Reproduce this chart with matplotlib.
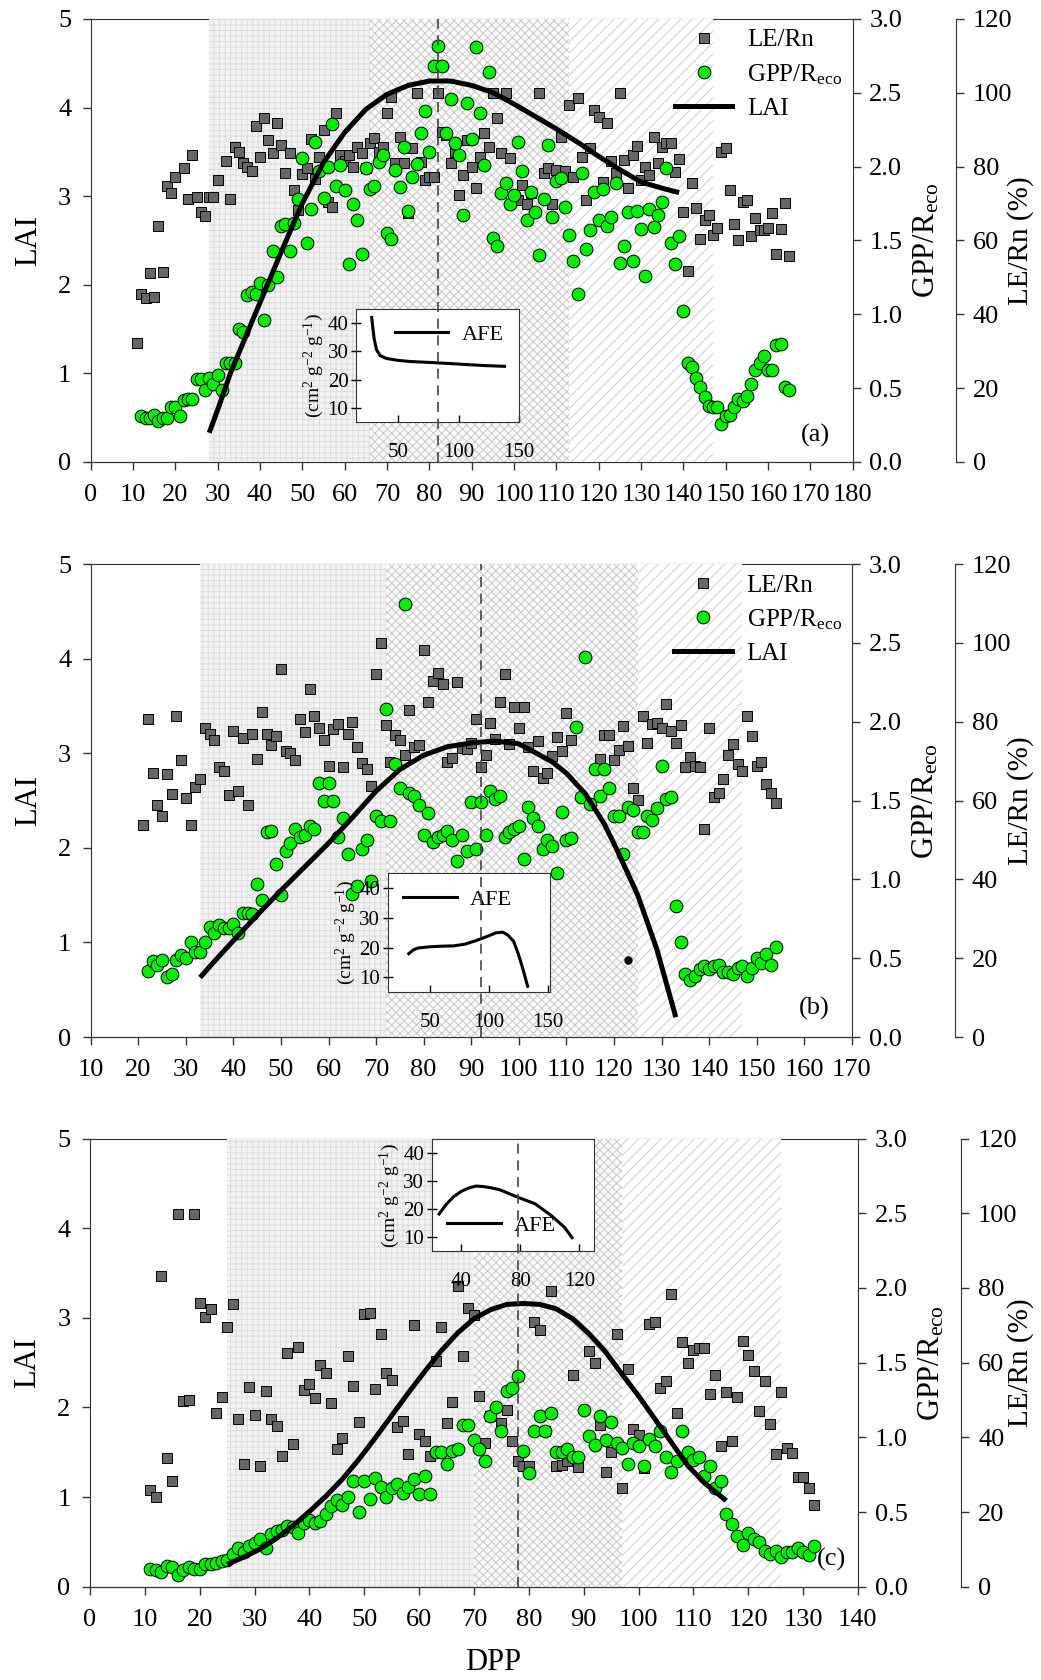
import matplotlib
matplotlib.use("Agg")
import matplotlib.pyplot as plt
from matplotlib.lines import Line2D
from matplotlib.transforms import blended_transform_factory

plt.rcParams['font.family'] = ['Liberation Serif', 'DejaVu Serif']
plt.rcParams['mathtext.fontset'] = 'custom'
plt.rcParams['mathtext.rm'] = 'Liberation Serif'
plt.rcParams['mathtext.it'] = 'Liberation Serif:italic'
plt.rcParams['mathtext.bf'] = 'Liberation Serif:bold'
plt.rcParams['hatch.linewidth'] = 0.8
plt.rcParams['axes.edgecolor'] = '#333333'

# ---------------- panel (a) ----------------
a_le = [(11,32.2),(12,45.4),(13,44.4),(14,51.1),(15,44.6),(16,63.8),(17,51.6),(18,74.8),(19,72.8),(20,77.3),
        (22,79.7),(23,71.3),(24,83.2),(25,71.9),(26,67.6),(27,66.5),(28,71.9),(29,71.9),(30,76.4),(32,81.4),
        (33,71.3),(34,85.4),(35,84.1),(36,81.1),(37,80.0),(38,78.7),(39,91.0),(40,82.7),(41,93.3),(42,87.2),
        (43,83.6),(44,91.9),(45,85.9),(46,78.4),(47,83.6),(48,73.7),(49,68.3),(50,78.0),(51,79.6),(52,87.4),
        (53,76.7),(54,82.7),(55,89.9),(56,70.5),(57,69.0),(58,94.6),(59,83.2),(60,81.6),(61,83.2),(62,80.0),
        (63,85.4),(64,83.8),(65,79.6),(66,86.3),(67,87.7),(68,84.1),(69,85.4),(70,94.4),(71,99.0),(72,80.9),
        (73,88.1),(74,80.9),(75,67.4),(76,85.0),(77,100.0),(78,81.2),(79,76.4),(80,77.3),(81,77.1),(82,100.0),
        (83,89.5),(84,88.6),(85,81.1),(86,84.1),(87,72.3),(88,77.8),(89,87.2),(90,80.0),(91,74.1),(92,82.7),
        (93,89.0),(94,85.4),(95,100.0),(96,93.1),(97,83.8),(98,100.0),(99,82.3),(101,71.0),(102,75.0),(103,69.9),
        (104,72.8),(106,99.9),(107,78.2),(108,79.6),(109,69.9),(110,79.1),(111,87.9),(112,78.7),(113,96.7),
        (114,77.3),(115,98.5),(116,82.7),(117,71.0),(118,85.0),(119,95.3),(120,93.4),(121,75.9),(122,91.7),
        (123,81.4),(124,78.2),(125,100.0),(126,81.8),(127,74.1),(128,83.2),(129,85.7),(130,76.4),(131,80.0),
        (132,77.8),(133,87.9),(134,80.9),(135,85.4),(136,86.3),(137,86.5),(138,78.5),(139,82.1),(140,67.8),
        (141,51.8),(142,75.5),(143,68.7),(144,60.3),(145,65.6),(146,66.9),(147,61.5),(148,63.3),(149,84.1),
        (150,85.0),(151,73.7),(152,64.4),(153,60.2),(154,70.3),(155,71.0),(156,61.3),(157,66.0),(158,62.9),
        (159,62.9),(160,63.5),(161,67.4),(162,56.4),(163,63.0),(164,70.1),(165,55.9)]
a_gpp = [(12,0.31),(13,0.30),(14,0.30),(15,0.32),(16,0.28),(17,0.30),(18,0.30),(19,0.37),(20,0.37),(21,0.31),
         (22,0.42),(23,0.43),(24,0.43),(25,0.56),(26,0.56),(27,0.49),(28,0.57),(29,0.53),(30,0.59),(31,0.49),
         (32,0.67),(33,0.67),(34,0.67),(35,0.90),(36,0.88),(37,1.13),(38,1.15),(39,1.14),(40,1.21),(41,0.96),
         (42,1.20),(43,1.43),(44,1.25),(45,1.60),(46,1.61),(47,1.43),(48,1.62),(49,1.78),(50,2.06),(51,1.48),
         (52,1.71),(53,2.17),(54,1.97),(55,1.79),(56,2.00),(57,2.29),(58,1.87),(59,2.01),(60,1.84),(61,1.34),
         (62,1.75),(63,1.64),(64,1.41),(65,1.99),(66,1.85),(67,1.87),(68,2.03),(69,2.08),(70,1.55),(71,1.51),
         (72,1.98),(73,1.86),(74,2.13),(75,1.70),(76,1.93),(77,2.02),(78,2.23),(79,2.38),(80,2.10),(81,2.68),
         (82,2.82),(83,2.68),(84,2.23),(85,2.46),(86,2.16),(87,2.08),(88,1.67),(89,2.43),(90,2.19),(91,2.81),
         (92,2.36),(93,2.01),(94,2.64),(95,1.52),(96,1.46),(97,1.82),(98,1.89),(99,1.75),(100,1.81),(101,2.17),
         (102,1.97),(103,1.64),(104,1.83),(105,1.69),(106,1.40),(107,1.78),(108,2.15),(109,1.66),(110,1.90),
         (111,1.92),(112,1.73),(113,1.54),(114,1.36),(115,1.14),(116,1.96),(117,1.44),(118,1.57),(119,1.83),
         (120,1.64),(121,1.85),(122,1.60),(123,1.66),(124,1.89),(125,1.35),(126,1.46),(127,1.69),(128,1.36),
         (129,1.70),(130,1.58),(131,1.26),(132,1.71),(133,1.59),(134,1.67),(135,1.76),(136,1.99),(137,1.48),
         (138,1.34),(139,1.53),(140,1.02),(141,0.67),(142,0.64),(143,0.57),(144,0.51),(145,0.44),(146,0.38),
         (147,0.37),(148,0.37),(149,0.26),(150,0.31),(151,0.32),(152,0.37),(153,0.43),(154,0.41),(155,0.45),
         (156,0.53),(157,0.62),(158,0.67),(159,0.72),(160,0.62),(161,0.62),(162,0.79),(163,0.80),(164,0.51),
         (165,0.49)]
a_lai = [(28,0.33),(30,0.59),(33,1.00),(35,1.23),(40,1.80),(45,2.37),(50,2.92),(55,3.38),(60,3.72),(65,3.98),
         (70,4.15),(75,4.25),(80,4.30),(85,4.30),(90,4.25),(95,4.17),(100,4.04),(105,3.90),(110,3.76),
         (115,3.61),(120,3.45),(125,3.30),(130,3.16),(135,3.09),(139,3.04)]
a_afe = [(28,42.0),(29,38.0),(30,34.5),(32,30.5),(35,28.5),(40,27.5),(50,26.8),(60,26.4),(80,26.0),
         (100,25.5),(120,25.0),(138,24.7)]
a_stages = [28, 66, 113, 147]
a_peak = 82

# ---------------- panel (b) ----------------
b_le = [(21,53.8),(22,80.8),(23,67.1),(24,59.0),(25,56.2),(26,66.7),(27,61.6),(28,81.4),(29,70.4),(30,60.6),
        (31,53.8),(32,63.4),(33,65.4),(34,78.5),(35,77.0),(36,75.3),(37,68.4),(38,67.6),(39,61.3),(40,77.6),
        (41,62.5),(42,75.9),(43,58.8),(44,76.9),(45,70.6),(46,82.4),(47,77.0),(48,74.1),(49,76.3),(50,93.3),
        (51,72.6),(52,72.1),(53,70.4),(54,80.8),(55,77.3),(56,88.4),(57,81.4),(58,78.5),(59,75.4),(60,68.9),
        (61,78.2),(62,79.4),(63,68.6),(64,77.0),(65,80.0),(66,73.5),(67,69.5),(68,68.0),(69,63.6),(70,92.2),
        (71,99.9),(72,79.1),(73,69.7),(74,76.7),(75,75.4),(76,71.5),(77,83.0),(78,73.7),(79,74.1),(80,98.3),
        (81,85.0),(82,90.3),(83,92.5),(84,89.6),(85,69.7),(86,70.9),(87,90.1),(88,73.4),(89,73.0),(90,74.6),
        (91,80.7),(92,68.4),(93,71.5),(94,79.6),(95,75.6),(96,85.0),(97,92.2),(98,74.4),(99,83.7),(100,78.5),
        (101,83.7),(102,73.7),(103,67.4),(104,75.1),(105,65.8),(106,67.1),(107,71.2),(108,76.1),(109,72.5),
        (110,82.2),(111,75.4),(117,70.6),(118,76.7),(119,76.7),(120,70.2),(121,72.8),(122,78.9),(123,73.9),
        (124,63.2),(125,60.1),(126,81.5),(127,74.6),(128,79.4),(129,79.8),(130,78.5),(131,84.4),(132,77.6),
        (133,74.7),(134,79.1),(135,68.4),(136,71.1),(137,68.9),(138,68.4),(139,52.7),(140,78.5),(141,61.0),
        (142,61.9),(143,65.4),(144,71.5),(145,74.4),(146,69.3),(147,67.4),(148,81.4),(149,76.5),(150,68.9),
        (151,69.8),(152,64.2),(153,61.9),(154,59.4)]
b_gpp = [(22,0.42),(23,0.48),(24,0.46),(25,0.49),(26,0.38),(27,0.40),(28,0.49),(29,0.52),(30,0.50),(31,0.60),
         (32,0.54),(33,0.54),(34,0.60),(35,0.70),(36,0.66),(37,0.71),(38,0.69),(39,0.69),(40,0.72),(41,0.66),
         (42,0.79),(43,0.79),(44,0.78),(45,0.97),(46,0.87),(47,1.30),(48,1.31),(49,1.10),(50,0.90),(51,1.18),
         (52,1.23),(53,1.32),(54,1.27),(55,1.28),(56,1.34),(57,1.32),(58,1.61),(59,1.50),(60,1.61),(61,1.50),
         (62,1.27),(63,1.39),(64,1.16),(65,0.91),(66,0.96),(67,1.19),(68,1.25),(69,0.99),(70,1.40),(71,1.37),
         (72,2.08),(73,1.37),(74,1.73),(75,1.58),(76,2.75),(77,1.55),(78,1.53),(79,1.47),(80,1.28),(81,1.42),
         (82,1.24),(83,1.27),(84,1.28),(85,1.31),(86,1.25),(87,1.12),(88,1.28),(89,1.18),(90,1.49),(91,1.19),
         (92,1.49),(93,1.28),(94,1.56),(95,1.51),(96,1.53),(97,1.27),(98,1.30),(99,1.32),(100,1.34),(101,1.13),
         (102,1.46),(103,1.39),(104,1.34),(105,1.19),(106,1.25),(107,1.21),(108,1.04),(109,1.43),(110,1.25),
         (111,1.26),(112,1.97),(113,1.52),(114,2.41),(115,1.48),(116,1.70),(117,1.53),(118,1.70),(119,1.58),
         (120,1.40),(121,1.40),(122,1.16),(123,1.46),(124,1.44),(125,1.30),(126,1.30),(127,1.40),(128,1.38),
         (129,1.45),(130,1.72),(131,1.51),(132,1.52),(133,0.83),(134,0.60),(135,0.40),(136,0.36),(137,0.39),
         (138,0.43),(139,0.45),(140,0.43),(141,0.45),(142,0.46),(143,0.41),(144,0.41),(145,0.40),(146,0.44),
         (147,0.45),(148,0.39),(149,0.44),(150,0.50),(151,0.47),(152,0.53),(153,0.46),(154,0.57)]
b_lai = [(33,0.63),(36,0.80),(40,1.02),(45,1.29),(50,1.55),(55,1.80),(60,2.05),(65,2.32),(70,2.60),(75,2.83),
         (80,2.98),(85,3.07),(90,3.11),(95,3.13),(100,3.10),(103,3.02),(107,2.91),(110,2.79),(114,2.57),
         (118,2.25),(121,1.94),(125,1.50),(129,0.93),(133,0.21)]
b_lai_obs = [(123,0.81)]
b_afe = [(32,18.0),(36,19.3),(40,19.9),(50,20.3),(60,20.5),(70,20.6),(80,21.2),(90,22.5),(100,24.0),
         (106,25.0),(112,25.2),(116,24.3),(121,22.2),(125,18.0),(129,12.8),(133,7.0)]
b_stages = [33, 72, 125, 147]
b_peak = 92

# ---------------- panel (c) ----------------
c_le = [(11,25.8),(12,24.1),(13,83.1),(14,34.5),(15,28.2),(16,99.8),(17,49.6),(18,49.9),(19,99.8),(20,75.9),
        (21,72.2),(22,74.3),(23,46.6),(24,50.9),(25,69.5),(26,75.7),(27,44.8),(28,32.9),(29,53.4),(30,46.1),
        (31,32.4),(32,52.5),(33,44.8),(34,43.0),(35,35.1),(36,62.5),(37,38.2),(38,64.2),(39,52.8),(40,54.4),
        (41,50.6),(42,59.5),(43,57.1),(44,49.1),(45,36.8),(46,39.9),(47,61.9),(48,53.7),(49,44.2),(50,73.0),
        (51,73.3),(52,53.0),(53,67.8),(54,57.1),(55,55.4),(56,42.7),(57,44.4),(58,35.6),(59,70.2),(60,40.8),
        (61,38.9),(62,35.1),(63,60.4),(64,69.5),(65,43.9),(66,49.4),(67,80.5),(68,61.9),(69,74.5),(70,72.8),
        (71,51.1),(72,38.4),(73,45.6),(75,43.9),(76,47.3),(77,38.9),(78,33.7),(79,32.4),(80,32.4),(81,70.9),
        (82,68.7),(83,41.6),(84,79.1),(85,32.4),(86,32.7),(87,33.7),(88,56.8),(89,32.0),(91,63.0),(92,59.8),
        (93,43.2),(94,30.8),(95,36.2),(96,67.8),(97,26.5),(98,58.3),(99,42.3),(100,40.6),(101,31.7),(102,70.3),
        (103,70.9),(104,53.1),(105,55.2),(106,78.4),(107,46.6),(108,65.5),(109,59.8),(110,63.3),(111,64.0),
        (112,64.0),(113,51.5),(114,56.6),(115,37.7),(116,52.1),(117,39.1),(118,50.7),(119,65.7),(120,62.0),
        (121,57.7),(122,47.0),(123,55.0),(124,43.5),(125,35.6),(126,52.1),(127,37.2),(128,35.8),(129,29.3),
        (130,29.3),(131,26.5),(132,21.9)]
c_gpp = [(11,0.12),(12,0.11),(13,0.10),(14,0.14),(15,0.13),(16,0.08),(17,0.11),(18,0.13),(19,0.12),(20,0.12),
         (21,0.15),(22,0.15),(23,0.16),(24,0.17),(25,0.18),(26,0.22),(27,0.26),(28,0.23),(29,0.27),(30,0.29),
         (31,0.32),(32,0.26),(33,0.35),(34,0.37),(35,0.38),(36,0.41),(37,0.40),(38,0.36),(39,0.43),(40,0.45),
         (41,0.43),(42,0.44),(43,0.49),(44,0.54),(45,0.58),(46,0.55),(47,0.60),(48,0.71),(49,0.50),(50,0.71),
         (51,0.59),(52,0.73),(53,0.67),(54,0.60),(55,0.66),(56,0.69),(57,0.63),(58,0.67),(59,0.72),(60,0.62),
         (61,0.74),(62,0.62),(63,0.90),(64,0.90),(65,0.82),(66,0.91),(67,0.92),(68,1.08),(69,1.08),(70,0.98),
         (71,0.92),(72,0.84),(73,1.14),(74,1.20),(75,1.04),(76,1.31),(77,1.33),(78,1.41),(79,0.91),(80,0.76),
         (81,1.04),(82,1.14),(83,1.04),(84,1.16),(85,0.90),(86,0.90),(87,0.92),(88,0.87),(89,0.87),(90,1.18),
         (91,1.01),(92,0.95),(93,1.14),(94,0.98),(95,1.10),(96,0.96),(97,0.93),(98,0.82),(99,0.96),(100,0.94),
         (101,0.81),(102,0.99),(103,0.94),(104,1.04),(105,0.87),(106,0.77),(107,0.84),(108,1.04),(109,0.90),
         (110,0.85),(111,0.87),(112,0.74),(113,0.81),(114,0.66),(115,0.71),(116,0.49),(117,0.42),(118,0.34),
         (119,0.28),(120,0.36),(121,0.32),(122,0.30),(123,0.24),(124,0.22),(125,0.24),(126,0.20),(127,0.23),
         (128,0.23),(129,0.26),(130,0.23),(131,0.21),(132,0.27)]
c_lai = [(25,0.25),(28,0.33),(31,0.42),(34,0.54),(37,0.68),(40,0.84),(43,1.01),(46,1.20),(49,1.42),(52,1.66),
         (55,1.91),(58,2.16),(61,2.40),(64,2.63),(67,2.83),(70,2.99),(73,3.09),(76,3.15),(79,3.16),(82,3.15),
         (85,3.10),(88,2.99),(91,2.82),(94,2.62),(97,2.37),(100,2.13),(103,1.87),(106,1.61),(109,1.35),
         (112,1.16),(114,1.06),(116,0.96)]
c_afe = [(25,18.3),(30,21.8),(35,24.5),(40,26.3),(45,27.5),(50,28.2),(55,28.0),(60,27.6),(66,26.9),
         (78,24.3),(90,21.9),(101,17.7),(110,13.5),(115,9.9)]
c_stages = [25, 70, 97, 126]
c_peak = 78

# fill / hatch for the three growth stages
stage_styles = [('#f3f3f3', '+++', '#dedede'),
                ('#fcfcfc', 'xxxx', '#cccccc'),
                ('white', '///', '#d4d4d4')]

fig = plt.figure(figsize=(10.41, 16.8), dpi=100)


def draw_panel(rect, xlim, xticks, stages, peak, le, gpp, lai, afe, ins_rect, ins_xlim, ins_xticks,
               afe_loc, tag, tag_xy, le_label_x, legend=True, lai_obs=None):
    ax = fig.add_axes(rect)
    ax_g = ax.twinx()
    ax_l = ax.twinx()

    ax.set_xlim(xlim)
    ax.set_xticks(xticks)
    for (x0, x1), (fc, h, ec) in zip(zip(stages[:-1], stages[1:]), stage_styles):
        ax.axvspan(x0, x1, facecolor=fc, hatch=h, edgecolor=ec, linewidth=0, zorder=2.6)

    d, v = zip(*le)
    ax.scatter(d, v, marker='s', s=58, c='#666666', edgecolors='black', linewidths=0.7, zorder=3)
    ax.set_ylim(0, 120)
    ax.set_yticks(range(0, 121, 20))
    ax.yaxis.tick_right()
    ax.yaxis.set_label_position('right')
    ax.spines['right'].set_position(('outward', 74.5))
    ax.spines['left'].set_visible(False)
    ax.set_ylabel('LE/Rn (%)', fontsize=21)
    ax.yaxis.set_label_coords(le_label_x, 0.5)

    d, v = zip(*gpp)
    ax_g.scatter(d, v, marker='o', s=84, c='#00f000', edgecolors='black', linewidths=0.7, zorder=3)
    ax_g.set_ylim(0, 3)
    ax_g.set_yticks([0, 0.5, 1.0, 1.5, 2.0, 2.5, 3.0])
    ax_g.set_yticklabels(['0.0', '0.5', '1.0', '1.5', '2.0', '2.5', '3.0'])
    ax_g.spines['top'].set_visible(False)
    ax_g.spines['left'].set_visible(False)
    ax_g.set_ylabel(r'GPP/R$_{\rm eco}$', fontsize=22, labelpad=7)

    d, v = zip(*lai)
    ax_l.plot(d, v, color='black', lw=3.6, solid_capstyle='butt', zorder=4)
    if lai_obs:
        d, v = zip(*lai_obs)
        ax_l.plot(d, v, 'o', color='black', ms=5, zorder=4)
    ax_l.set_ylim(0, 5)
    ax_l.yaxis.tick_left()
    ax_l.yaxis.set_label_position('left')
    for s in ('top', 'right', 'bottom'):
        ax_l.spines[s].set_visible(False)
    ax_l.set_ylabel('LAI', fontsize=22, labelpad=11)

    for a in (ax, ax_g, ax_l):
        a.tick_params(labelsize=19, direction='out', length=6, width=1, color='#333333')
    ax.tick_params(axis='x', pad=10)
    ax.tick_params(axis='y', pad=6)
    ax_g.tick_params(axis='y', pad=6)
    ax_l.tick_params(axis='y', pad=8)

    if legend:
        handles = [Line2D([], [], marker='s', ls='none', ms=7.6, mfc='#666666', mec='black', mew=0.7),
                   Line2D([], [], marker='o', ls='none', ms=9.2, mfc='#00f000', mec='black', mew=0.7),
                   Line2D([], [], color='black', lw=3.6)]
        ax_l.legend(handles, ['LE/Rn', r'GPP/R$_{\rm eco}$', 'LAI'], loc='upper right', frameon=False,
                    fontsize=18, handlelength=2.3, handletextpad=0.6, labelspacing=0.42,
                    borderaxespad=0.2, borderpad=0.2)

    ax_l.text(tag_xy[0], tag_xy[1], tag, transform=ax_l.transAxes, ha='center', va='center', fontsize=19)

    # inset with AFE
    ins = fig.add_axes(ins_rect)
    d, v = zip(*afe)
    ins.plot(d, v, color='black', lw=2.2, label='AFE')
    ins.set_xlim(ins_xlim)
    ins.set_ylim(5, 45)
    ins.set_xticks(ins_xticks)
    ins.set_yticks([10, 20, 30, 40])
    ins.tick_params(axis='y', direction='inout', length=7, width=1, labelsize=15, pad=2)
    ins.tick_params(axis='x', direction='in', length=5, width=1, labelsize=15, pad=15)
    ins.set_ylabel(r'(cm$^{2}$ g$^{-2}$ g$^{-1}$)', fontsize=14, labelpad=1)
    ins.legend(loc=afe_loc, frameon=False, fontsize=16, handlelength=2.4, handletextpad=0.6,
               borderaxespad=0.3)

    # dashed line at the LAI peak, drawn over the inset too
    tr = blended_transform_factory(ax.transData, ax.transAxes)
    fig.add_artist(Line2D([peak, peak], [0, 1], transform=tr, color='#444444', lw=1.2,
                          ls=(0, (6, 4)), zorder=5))
    return ax


draw_panel([0.0871, 0.7250, 0.7320, 0.2637], (0, 180), range(0, 181, 10), a_stages, a_peak,
           a_le, a_gpp, a_lai, a_afe, [0.3420, 0.7488, 0.1566, 0.0673], (15, 150), [50, 100, 150],
           'upper right', '(a)', (0.951, 0.061), 1.2025)
draw_panel([0.0871, 0.3827, 0.7312, 0.2815], (10, 170), range(10, 171, 10), b_stages, b_peak,
           b_le, b_gpp, b_lai, b_afe, [0.3724, 0.4094, 0.1559, 0.0707], (14, 152), [50, 100, 150],
           'upper left', '(b)', (0.950, 0.060), 1.2037, lai_obs=b_lai_obs)
draw_panel([0.0865, 0.0555, 0.7376, 0.2668], (0, 140), range(0, 141, 10), c_stages, c_peak,
           c_le, c_gpp, c_lai, c_afe, [0.4147, 0.2551, 0.1561, 0.0671], (20, 130), [40, 80, 120],
           'lower left', '(c)', (0.965, 0.061), 1.1937, legend=False)

fig.text(0.4733, 0.0105, 'DPP', ha='center', va='center', fontsize=22)

fig.savefig('out.png', dpi=100)
